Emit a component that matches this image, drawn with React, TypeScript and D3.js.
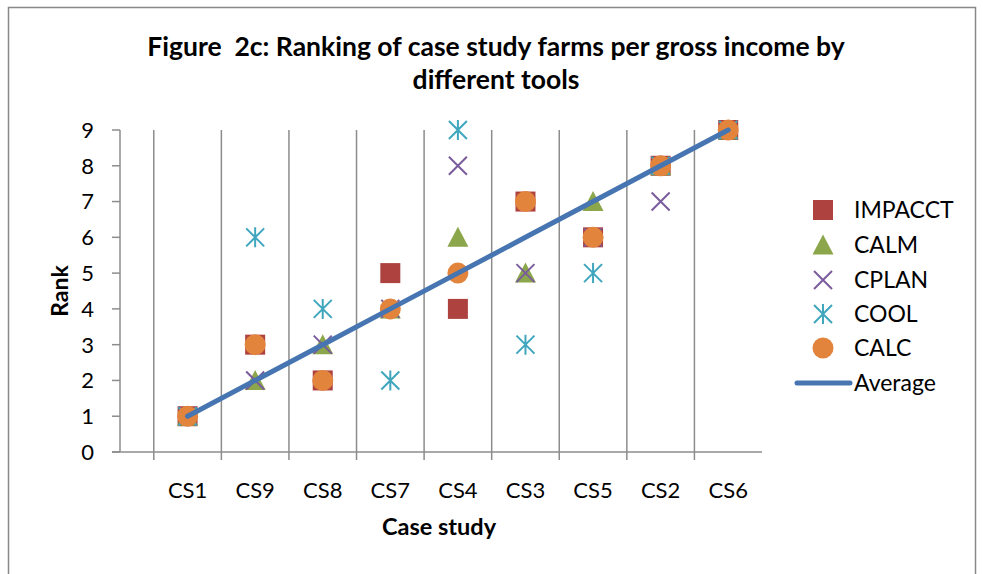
import { useEffect, useRef } from "react";
import * as d3 from "d3";

const categories = ["CS1", "CS9", "CS8", "CS7", "CS4", "CS3", "CS5", "CS2", "CS6"];
const impacct = [1, 3, 2, 5, 4, 7, 6, 8, 9];
const calm = [1, 2, 3, 4, 6, 5, 7, 8, 9];
const cplan = [1, 2, 3, 4, 8, 5, 6, 7, 9];
const cool = [1, 6, 4, 2, 9, 3, 5, 8, 9];
const calc = [1, 3, 2, 4, 5, 7, 6, 8, 9];
const average = [1, 2, 3, 4, 5, 6, 7, 8, 9];
const yTicks = [0, 1, 2, 3, 4, 5, 6, 7, 8, 9];

const FONT = "Lato, 'Open Sans', sans-serif";

type Kind = "square" | "triangle" | "x" | "star" | "circle";

const series: { name: string; values: number[]; kind: Kind; color: string }[] = [
  { name: "IMPACCT", values: impacct, kind: "square", color: "#AD423F" },
  { name: "CALM", values: calm, kind: "triangle", color: "#8BA64B" },
  { name: "CPLAN", values: cplan, kind: "x", color: "#7A5C9C" },
  { name: "COOL", values: cool, kind: "star", color: "#3FA6BE" },
  { name: "CALC", values: calc, kind: "circle", color: "#E3843C" },
];

function drawMarker(
  g: d3.Selection<SVGGElement, unknown, null, undefined>,
  kind: Kind,
  color: string,
  x: number,
  y: number
) {
  const t = `translate(${x},${y})`;
  if (kind === "square") {
    g.append("rect").attr("x", x - 10).attr("y", y - 10).attr("width", 20).attr("height", 20).attr("fill", color);
  } else if (kind === "circle") {
    g.append("circle").attr("cx", x).attr("cy", y).attr("r", 10.5).attr("fill", color);
  } else if (kind === "triangle") {
    g.append("path").attr("transform", t).attr("d", "M0,-10.5L10.5,9.5L-10.5,9.5Z").attr("fill", color);
  } else if (kind === "x") {
    g.append("path")
      .attr("transform", t)
      .attr("d", "M-9,-9L9,9M-9,9L9,-9")
      .attr("stroke", color)
      .attr("stroke-width", 2)
      .attr("fill", "none");
  } else {
    g.append("path")
      .attr("transform", t)
      .attr("d", "M-9,-9L9,9M-9,9L9,-9M0,-10L0,10")
      .attr("stroke", color)
      .attr("stroke-width", 2)
      .attr("fill", "none");
  }
}

export default function App() {
  const svgRef = useRef<SVGSVGElement>(null);

  useEffect(() => {
    if (!svgRef.current) return;
    const svg = d3.select(svgRef.current);
    svg.selectAll("*").remove();

    const x = d3.scaleLinear().domain([0, 9.5]).range([120, 762]);
    const y = d3.scaleLinear().domain([0, 9]).range([452, 130]);

    // chart border
    svg
      .append("rect")
      .attr("x", 8.5)
      .attr("y", 7.5)
      .attr("width", 967)
      .attr("height", 600)
      .attr("fill", "white")
      .attr("stroke", "#888")
      .attr("stroke-width", 1.5);

    // title
    const title = svg
      .append("text")
      .attr("text-anchor", "middle")
      .attr("font-family", FONT)
      .attr("font-weight", "bold")
      .attr("font-size", 26.5)
      .attr("fill", "#000");
    title.append("tspan").attr("x", 496).attr("y", 56).text("Figure\u00a0 2c: Ranking of case study farms per gross income by");
    title.append("tspan").attr("x", 496).attr("y", 89).text("different tools");

    const grid = svg.append("g");
    const bounds = d3.range(0.5, 9, 1);
    grid
      .selectAll("line.v")
      .data(bounds)
      .join("line")
      .attr("x1", (d) => x(d))
      .attr("x2", (d) => x(d))
      .attr("y1", y(9))
      .attr("y2", y(0) + 8)
      .attr("stroke", "#8c8c8c")
      .attr("stroke-width", 1.5);

    // y axis
    grid.append("line").attr("x1", x(0)).attr("x2", x(0)).attr("y1", y(9)).attr("y2", y(0)).attr("stroke", "#8c8c8c").attr("stroke-width", 1.5);
    grid
      .selectAll("line.yt")
      .data(yTicks)
      .join("line")
      .attr("x1", x(0) - 8)
      .attr("x2", x(0))
      .attr("y1", (d) => y(d))
      .attr("y2", (d) => y(d))
      .attr("stroke", "#8c8c8c")
      .attr("stroke-width", 1.5);
    // x axis
    grid.append("line").attr("x1", x(0) - 8).attr("x2", x(9.5)).attr("y1", y(0)).attr("y2", y(0)).attr("stroke", "#8c8c8c").attr("stroke-width", 1.5);

    svg
      .append("g")
      .selectAll("text")
      .data(yTicks)
      .join("text")
      .attr("x", 94)
      .attr("y", (d) => y(d))
      .attr("dy", "0.36em")
      .attr("text-anchor", "end")
      .attr("font-family", FONT)
      .attr("font-size", 22)
      .text((d) => d);

    svg
      .append("g")
      .selectAll("text")
      .data(categories)
      .join("text")
      .attr("x", (_, i) => x(i + 1))
      .attr("y", 498)
      .attr("text-anchor", "middle")
      .attr("font-family", FONT)
      .attr("font-size", 22)
      .text((d) => d);

    svg
      .append("text")
      .attr("x", 439)
      .attr("y", 535)
      .attr("text-anchor", "middle")
      .attr("font-family", FONT)
      .attr("font-weight", "bold")
      .attr("font-size", 23.5)
      .text("Case study");

    svg
      .append("text")
      .attr("transform", `translate(68,291) rotate(-90)`)
      .attr("text-anchor", "middle")
      .attr("font-family", FONT)
      .attr("font-weight", "bold")
      .attr("font-size", 23)
      .text("Rank");

    // markers
    const marks = svg.append("g");
    series.forEach((s) => {
      s.values.forEach((v, i) => drawMarker(marks, s.kind, s.color, x(i + 1), y(v)));
    });

    // average line
    const line = d3
      .line<number>()
      .x((_, i) => x(i + 1))
      .y((d) => y(d));
    svg
      .append("path")
      .attr("d", line(average))
      .attr("fill", "none")
      .attr("stroke", "#4675B1")
      .attr("stroke-width", 5)
      .attr("stroke-linecap", "round");

    // legend
    const leg = svg.append("g");
    const rows = [210, 245, 280, 314, 348];
    series.forEach((s, i) => {
      drawMarker(leg, s.kind, s.color, 823, rows[i]);
      leg
        .append("text")
        .attr("x", 854)
        .attr("y", rows[i])
        .attr("dy", "0.36em")
        .attr("font-family", FONT)
        .attr("font-size", 23)
        .text(s.name);
    });
    leg.append("line").attr("x1", 797).attr("x2", 850).attr("y1", 383).attr("y2", 383).attr("stroke", "#4675B1").attr("stroke-width", 5).attr("stroke-linecap", "round");
    leg
      .append("text")
      .attr("x", 854)
      .attr("y", 383)
      .attr("dy", "0.36em")
      .attr("font-family", FONT)
      .attr("font-size", 23)
      .text("Average");
  }, []);

  return (
    <svg
      ref={svgRef}
      width={983}
      height={574}
      style={{ position: "absolute", left: 0, top: 0, display: "block" }}
    />
  );
}
